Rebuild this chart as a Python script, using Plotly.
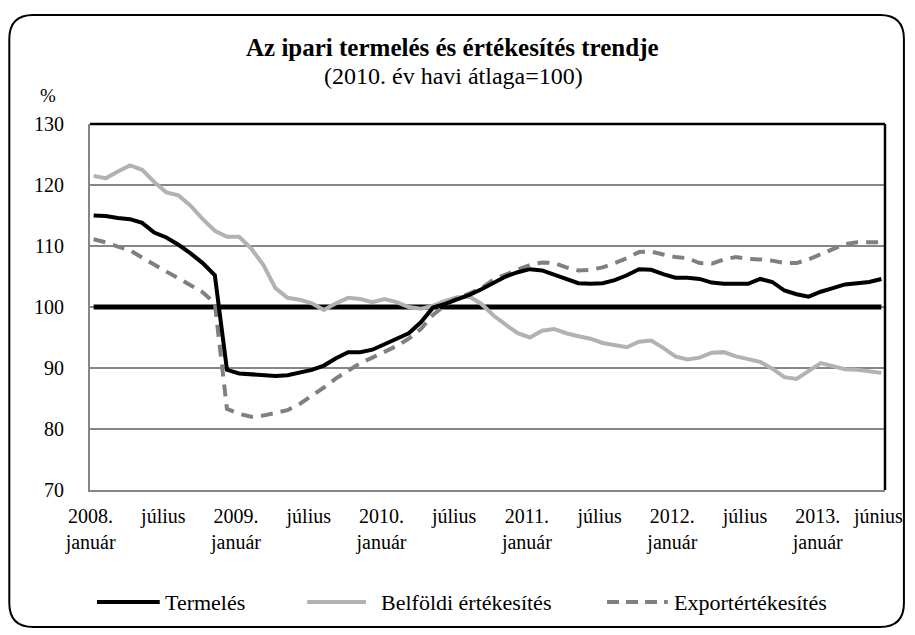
import plotly.graph_objects as go

# ---------------- data ----------------
months = list(range(66))  # 2008 január .. 2013 június (monthly)
tick_months = [0, 6, 12, 18, 24, 30, 36, 42, 48, 54, 60, 65]
tick_labels = ["2008.<br>január", "július", "2009.<br>január", "július",
               "2010.<br>január", "július", "2011.<br>január", "július",
               "2012.<br>január", "július", "2013.<br>január", "június"]

termeles = [115.0, 114.9, 114.6, 114.4, 113.8, 112.2, 111.4, 110.2, 108.8, 107.2,
            105.2, 89.7, 89.1, 89.0, 88.8, 88.7, 88.8, 89.2, 89.7, 90.4,
            91.6, 92.6, 92.6, 93.0, 93.9, 94.9, 95.7, 97.5, 99.9, 100.5,
            101.2, 102.0, 102.9, 104.0, 105.0, 105.7, 106.2, 106.0, 105.3, 104.6,
            103.9, 103.8, 103.9, 104.4, 105.2, 106.2, 106.1, 105.4, 104.8, 104.8,
            104.6, 104.0, 103.8, 103.8, 103.8, 104.6, 104.1, 102.7, 102.1, 101.7,
            102.5, 103.1, 103.7, 103.9, 104.1, 104.6]

belfoldi = [121.5, 121.1, 122.2, 123.2, 122.5, 120.5, 118.8, 118.3, 116.6, 114.4,
            112.5, 111.5, 111.5, 109.6, 106.9, 103.1, 101.5, 101.2, 100.6, 99.5,
            100.6, 101.5, 101.3, 100.8, 101.3, 100.8, 100.0, 99.7, 100.2, 101.0,
            101.6, 101.7, 100.5, 98.6, 97.1, 95.7, 95.0, 96.1, 96.4, 95.7,
            95.2, 94.8, 94.1, 93.7, 93.4, 94.3, 94.5, 93.3, 91.9, 91.4,
            91.7, 92.5, 92.6, 91.9, 91.4, 91.0, 89.9, 88.5, 88.2, 89.5,
            90.8, 90.3, 89.8, 89.7, 89.4, 89.2]

export = [111.1, 110.6, 109.9, 109.3, 108.1, 106.9, 105.8, 104.7, 103.5, 102.4,
          100.6, 83.3, 82.5, 82.0, 82.2, 82.7, 83.1, 84.1, 85.4, 86.8,
          88.3, 89.6, 90.8, 91.7, 92.6, 93.6, 94.8, 96.4, 98.7, 100.3,
          101.5, 102.2, 103.1, 104.5, 105.3, 106.1, 106.9, 107.3, 107.2, 106.5,
          106.0, 106.1, 106.5, 107.2, 108.0, 109.0, 109.1, 108.6, 108.2, 108.0,
          107.2, 107.1, 107.8, 108.2, 107.9, 107.8, 107.6, 107.2, 107.2, 107.8,
          108.7, 109.5, 110.3, 110.6, 110.6, 110.6]

reference_level = [100] * len(months)

series_names = ["Termelés", "Belföldi értékesítés", "Exportértékesítés"]

# ---------------- styling / layout ----------------
OFF = 8                      # page body margin of the html page
W, H = 915 - OFF, 635 - OFF  # figure size so the page is 915x635
L, R, T, B = 90, 888, 124, 490  # plot area in page pixels
FONT = "Liberation Serif, Times New Roman, serif"


def px(x):
    return (x - L) / (R - L)


def py(y):
    return (B - y) / (B - T)


fig = go.Figure()
fig.add_trace(go.Scatter(x=months, y=reference_level, mode="lines",
                         line=dict(color="#000000", width=5), showlegend=False,
                         hoverinfo="skip"))
fig.add_trace(go.Scatter(x=months, y=belfoldi, mode="lines", name=series_names[1],
                         line=dict(color="#b2b2b2", width=4), showlegend=False))
fig.add_trace(go.Scatter(x=months, y=export, mode="lines", name=series_names[2],
                         line=dict(color="#808080", width=4, dash="12px,8px"),
                         showlegend=False))
fig.add_trace(go.Scatter(x=months, y=termeles, mode="lines", name=series_names[0],
                         line=dict(color="#000000", width=4), showlegend=False))

shapes = []
# top and right frame (black)
shapes.append(dict(type="line", xref="paper", yref="paper", x0=0, x1=1, y0=1, y1=1,
                   line=dict(color="#000000", width=2.5)))
shapes.append(dict(type="line", xref="paper", yref="paper", x0=1, x1=1, y0=0, y1=1,
                   line=dict(color="#000000", width=2.5)))

# rounded outer border
bl, br, bt, bb, rr = 9, 907, 15, 627, 24
path = (f"M {px(bl + rr)},{py(bt)} L {px(br - rr)},{py(bt)} "
        f"Q {px(br)},{py(bt)} {px(br)},{py(bt + rr)} "
        f"L {px(br)},{py(bb - rr)} Q {px(br)},{py(bb)} {px(br - rr)},{py(bb)} "
        f"L {px(bl + rr)},{py(bb)} Q {px(bl)},{py(bb)} {px(bl)},{py(bb - rr)} "
        f"L {px(bl)},{py(bt + rr)} Q {px(bl)},{py(bt)} {px(bl + rr)},{py(bt)} Z")
shapes.append(dict(type="path", xref="paper", yref="paper", path=path,
                   line=dict(color="#000000", width=2)))

# manual legend
leg_y = 602
leg_items = [
    (97, 160, 163, series_names[0], dict(color="#000000", width=4)),
    (308, 367, 380, series_names[1], dict(color="#b2b2b2", width=4)),
    (609, 670, 674, series_names[2], dict(color="#808080", width=4, dash="12px,7px")),
]
annotations = []
for x0, x1, xt, name, ln in leg_items:
    shapes.append(dict(type="line", xref="paper", yref="paper", x0=px(x0), x1=px(x1),
                       y0=py(leg_y), y1=py(leg_y), line=ln))
    annotations.append(dict(text=name, xref="paper", yref="paper", x=px(xt), y=py(leg_y),
                            xanchor="left", yanchor="middle", showarrow=False,
                            font=dict(family=FONT, size=22, color="#000000")))

annotations.append(dict(text="<b>Az ipari termelés és értékesítés trendje</b>",
                        xref="paper", yref="paper", x=px(454), y=py(47),
                        xanchor="center", yanchor="middle", showarrow=False,
                        font=dict(family=FONT, size=25, color="#000000")))
annotations.append(dict(text="(2010. év havi átlaga=100)",
                        xref="paper", yref="paper", x=px(455), y=py(76),
                        xanchor="center", yanchor="middle", showarrow=False,
                        font=dict(family=FONT, size=24, color="#000000")))
annotations.append(dict(text="%", xref="paper", yref="paper", x=px(48), y=py(95),
                        xanchor="center", yanchor="middle", showarrow=False,
                        font=dict(family=FONT, size=19, color="#000000")))

fig.update_layout(
    width=W, height=H,
    margin=dict(l=L - OFF, r=W - (R - OFF), t=T - OFF, b=H - (B - OFF)),
    paper_bgcolor="#ffffff", plot_bgcolor="#ffffff",
    font=dict(family=FONT, size=20, color="#000000"),
    showlegend=False,
    shapes=shapes,
    annotations=annotations,
    xaxis=dict(range=[-0.3, 65.3], tickmode="array",
               tickvals=[m - 0.25 for m in tick_months], ticktext=tick_labels,
               tickangle=0, showgrid=False, zeroline=False, showline=True,
               linecolor="#868686", linewidth=2, ticks="", ticklabelstandoff=7,
               tickfont=dict(family=FONT, size=20, color="#000000")),
    yaxis=dict(range=[70, 130], dtick=10, tick0=70, showgrid=True,
               gridcolor="#868686", gridwidth=2, zeroline=False, showline=True,
               linecolor="#868686", linewidth=2, ticks="", ticklabelstandoff=20,
               tickfont=dict(family=FONT, size=20, color="#000000")),
)

fig.write_html("out.html")
